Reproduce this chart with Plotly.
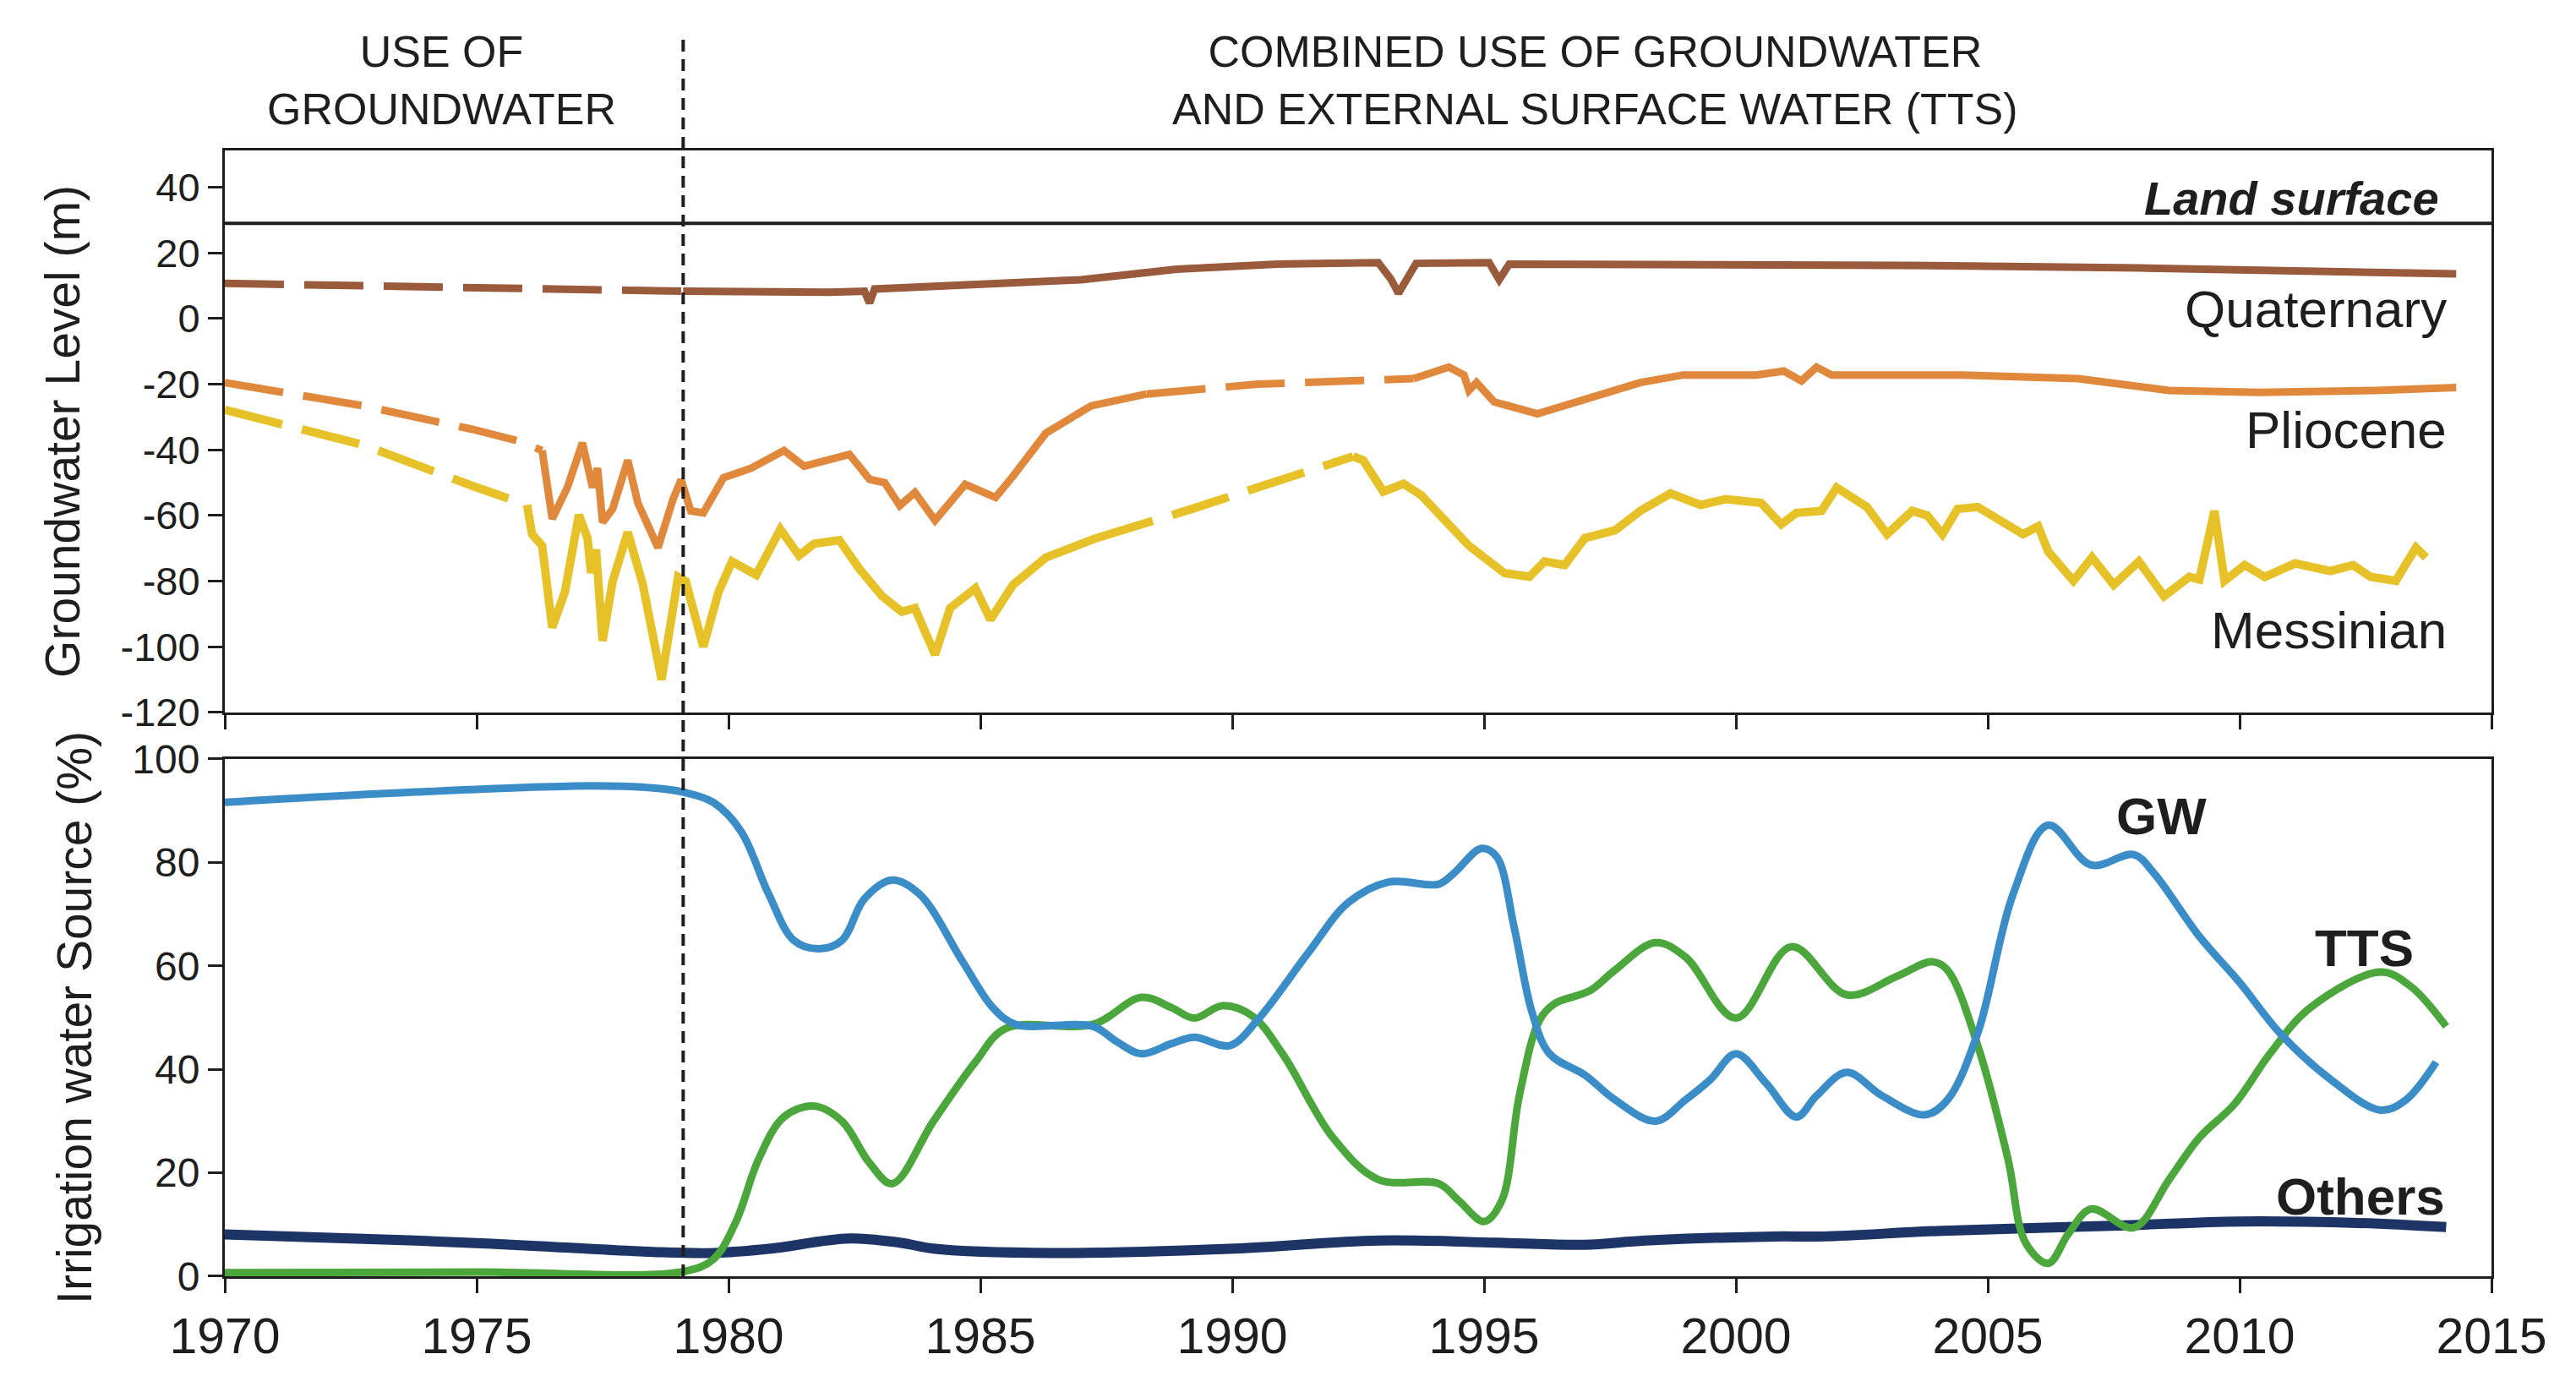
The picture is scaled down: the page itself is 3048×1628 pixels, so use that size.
import plotly.graph_objects as go

# ---- data ----
transition_year = 1979.1
land_surface = 29

level_ticks = [-120, -100, -80, -60, -40, -20, 0, 20, 40]
level_labels = ["-120", "-100", "-80", "-60", "-40", "-20", "0", "20", "40"]

# Quaternary aquifer
quat_dash_x = [1970, 1979.1]
quat_dash_y = [10.7, 8.3]
quat_x = [1979.1, 1980.5, 1982.0, 1982.7, 1982.8, 1982.9, 1984.0, 1985.1, 1987.0, 1988.9,
          1990.9, 1992.9, 1993.15, 1993.3, 1993.45, 1993.65, 1995.1, 1995.3, 1995.5, 1997.4,
          2003.3, 2008.0, 2011.5, 2014.3]
quat_y = [8.3, 8.0, 8.0, 8.3, 4.7, 9.0, 9.8, 10.1, 11.8, 15.0,
          16.6, 17.0, 12.0, 7.7, 12.0, 16.8, 17.0, 11.8, 16.6, 16.6,
          16.2, 15.4, 14.6, 13.6]

# Pliocene aquifer
pli_dash1_x = [1970, 1972.75, 1974.9, 1975.8, 1976.3]
pli_dash1_y = [-19.5, -26.6, -33.7, -37.2, -40.2]
pli_x1 = [1976.3, 1976.5, 1976.8, 1977.1, 1977.3, 1977.4, 1977.5, 1977.7, 1978.0, 1978.2,
          1978.6, 1978.9, 1979.06, 1979.25, 1979.5, 1979.9, 1980.45, 1981.1, 1981.5, 1982.4,
          1982.8, 1983.1, 1983.4, 1983.7, 1984.1, 1984.7, 1985.3, 1985.65, 1986.3, 1987.2,
          1988.3]
pli_y1 = [-40.2, -61, -51.5, -37.9, -51.5, -45.6, -62.1, -58, -43.2, -56.2,
          -69.8, -55, -49.1, -58.6, -59.2, -48.5, -45.6, -40.2, -45, -41.4,
          -49, -50, -57, -53, -61.5, -50.5, -54.5, -48, -34.9, -26.6,
          -23]
pli_dash2_x = [1988.3, 1990.5, 1993.6]
pli_dash2_y = [-23, -20, -18.3]
pli_x2 = [1993.6, 1994.0, 1994.3, 1994.6, 1994.7, 1994.85, 1995.2, 1996.06, 1997.1, 1998.1,
          1998.95, 2000.4, 2000.95, 2001.3, 2001.6, 2001.9, 2004.5, 2006.8, 2008.6, 2010.4,
          2012.7, 2014.3]
pli_y2 = [-18.3, -16.5, -14.8, -17.2, -21.9, -19.5, -25.4, -29, -24.3, -19.5,
          -17.2, -17.2, -16, -19, -14.8, -17.2, -17.2, -18.3, -21.9, -22.5,
          -21.9, -21]

# Messinian aquifer
mes_dash1_x = [1970, 1972.75, 1974.9, 1976.0]
mes_dash1_y = [-27.8, -38.5, -50.9, -56.8]
mes_x1 = [1976.0, 1976.1, 1976.3, 1976.5, 1976.75, 1977.03, 1977.2, 1977.27, 1977.37, 1977.5,
          1977.7, 1978.0, 1978.3, 1978.67, 1979.0, 1979.15, 1979.5, 1979.8, 1980.07, 1980.55,
          1981.03, 1981.4, 1981.7, 1982.2, 1982.6, 1983.05, 1983.44, 1983.7, 1984.1, 1984.4,
          1984.9, 1985.2, 1985.65, 1986.3, 1987.3]
mes_y1 = [-56.8, -65.7, -69.2, -94.1, -83.4, -59.8, -66.9, -77.5, -70.4, -98.2,
          -80, -65.1, -81.1, -110, -78.7, -80, -100, -83.4, -74, -78.1,
          -64.2, -72.2, -68.6, -67.5, -76.3, -84.6, -89.3, -88.2, -102.4, -88.2,
          -82.2, -91.7, -81.1, -72.8, -66.9]
mes_dash2_x = [1987.3, 1989.2, 1992.4]
mes_dash2_y = [-66.9, -58, -42]
mes_x2 = [1992.4, 1992.6, 1993.0, 1993.4, 1993.75, 1994.7, 1995.4, 1995.9, 1996.2, 1996.6,
          1997.0, 1997.6, 1998.1, 1998.7, 1999.3, 1999.8, 2000.5, 2000.9, 2001.2, 2001.7,
          2002.0, 2002.6, 2003.0, 2003.5, 2003.8, 2004.1, 2004.4, 2004.8, 2005.7, 2006.0,
          2006.2, 2006.7, 2007.07, 2007.5, 2008.0, 2008.5, 2009.0, 2009.2, 2009.5, 2009.7,
          2010.1, 2010.5, 2011.1, 2011.8, 2012.25, 2012.6, 2013.1, 2013.5, 2013.7]
mes_y2 = [-42, -43.2, -52.7, -50.3, -53.8, -69.2, -77.5, -78.7, -74, -75.1,
          -66.9, -64.5, -58.6, -53.3, -56.8, -55, -56.2, -62.7, -59.2, -58.6,
          -51.5, -57.4, -65.7, -58.6, -60, -65.7, -58, -57.4, -65.7, -63.3,
          -71, -79.9, -72.8, -81.1, -74, -84.6, -78.7, -79.5, -58.6, -79.9,
          -75.1, -78.7, -74.6, -76.9, -75.1, -78.7, -79.9, -69.8, -72.8]

# Irrigation water source (%)
gw_x = [1970, 1973.8, 1977.3, 1978.5, 1979.1, 1979.7, 1980.25, 1980.8, 1981.3, 1981.8,
        1982.25, 1982.7, 1983.25, 1983.8, 1984.65, 1985.25, 1985.7, 1987.24, 1987.7, 1988.2,
        1988.8, 1989.25, 1989.95, 1990.5, 1991.5, 1992.3, 1993.1, 1994.1, 1994.4, 1994.95,
        1995.25, 1995.6, 1995.95, 1996.3, 1997.0, 1997.6, 1998.4, 1999.0, 1999.5, 2000.0,
        2000.6, 2001.2, 2001.6, 2002.2, 2002.9, 2003.75, 2004.2, 2004.8, 2005.5, 2006.2,
        2007.05, 2007.9, 2008.3, 2009.2, 2010.0, 2010.8, 2011.8, 2012.8, 2013.3, 2013.9]
gw_y = [91.6, 93.6, 94.8, 94.4, 93.6, 91.6, 86, 73.8, 64.9, 63.3,
        64.9, 73, 76.6, 73.8, 60.8, 51.9, 48.7, 48.3, 45.4, 43,
        45, 46.2, 44.6, 49.5, 62.4, 72.2, 76.2, 75.8, 77.9, 82.7,
        81.1, 67.3, 51.1, 43, 38.9, 34.1, 30, 34.1, 38.1, 43,
        37.3, 30.8, 34.9, 39.4, 34.9, 31.2, 34.1, 47, 73.8, 87.2,
        79.5, 81.5, 77.9, 65.7, 56.8, 47, 38.1, 32.1, 34.1, 41.4]

tts_x = [1970, 1975, 1979.1, 1979.7, 1980.15, 1980.6, 1981.1, 1981.7, 1982.25, 1982.8,
         1983.25, 1984.07, 1984.9, 1985.5, 1987.24, 1988.2, 1988.8, 1989.25, 1989.8, 1990.4,
         1991.0, 1992.0, 1992.9, 1994.1, 1994.5, 1995.0, 1995.35, 1995.7, 1996.1, 1996.4,
         1997.1, 1997.6, 1998.4, 1999.0, 2000.0, 2001.1, 2002.2, 2003.2, 2003.9, 2004.2,
         2004.8, 2005.4, 2005.75, 2006.2, 2006.6, 2007.05, 2007.9, 2008.6, 2009.2, 2009.9,
         2010.6, 2011.4, 2012.8, 2013.4, 2014.1]
tts_y = [0.7, 0.8, 0.9, 3.3, 10.6, 22.7, 30.8, 32.9, 30, 21.9,
         17.9, 30, 41.4, 47.9, 48.7, 53.9, 51.9, 49.9, 52.3, 50.3,
         43, 26.8, 18.7, 17.9, 14.6, 10.6, 14.6, 34.9, 49.5, 52.7,
         55.2, 59.2, 64.5, 61.7, 49.9, 63.7, 54.4, 58, 60.8, 59.2,
         44.6, 22.7, 6.5, 2.5, 8.2, 13, 9.4, 18.7, 26.8, 33.3,
         43, 51.9, 58.8, 56, 48.3]

oth_x = [1970, 1973.8, 1976.1, 1978.5, 1979.7, 1980.8, 1982.4, 1983.4, 1984.1, 1986.4,
         1989.95, 1992.9, 1995.25, 1997.0, 1998.2, 2000.76, 2001.75, 2004.1, 2007.6, 2010.0,
         2012.35, 2014.1]
oth_y = [8.1, 6.9, 5.9, 4.7, 4.5, 5.3, 7.3, 6.5, 5.3, 4.5,
         5.3, 6.9, 6.5, 6.1, 6.9, 7.7, 7.7, 8.8, 9.8, 10.6,
         10.3, 9.5]

# ---- styling ----
BROWN = "#9a5a3c"
ORANGE = "#e0883c"
YELLOW = "#e7c128"
BLUE = "#3b8dc8"
GREEN = "#4ba73c"
NAVY = "#1d3466"
INK = "#1e1e1e"
FONT = "Arial, Liberation Sans, sans-serif"
DASH = "70px,24px"

fig = go.Figure()


def add_line(x, y, color, width, dash="solid", axis=1, shape="linear"):
    fig.add_trace(go.Scatter(
        x=x, y=y, mode="lines",
        line=dict(color=color, width=width, dash=dash, shape=shape),
        xaxis="x" if axis == 1 else "x2",
        yaxis="y" if axis == 1 else "y2",
        showlegend=False, hoverinfo="skip"))


# top panel: groundwater levels
add_line(quat_dash_x, quat_dash_y, BROWN, 9, DASH)
add_line(quat_x, quat_y, BROWN, 9)
add_line(pli_dash1_x, pli_dash1_y, ORANGE, 9, DASH)
add_line(pli_x1, pli_y1, ORANGE, 9)
add_line(pli_dash2_x, pli_dash2_y, ORANGE, 9, DASH)
add_line(pli_x2, pli_y2, ORANGE, 9)
add_line(mes_dash1_x, mes_dash1_y, YELLOW, 10, DASH)
add_line(mes_x1, mes_y1, YELLOW, 10)
add_line(mes_dash2_x, mes_dash2_y, YELLOW, 10, DASH)
add_line(mes_x2, mes_y2, YELLOW, 10)

# bottom panel: irrigation sources
add_line(oth_x, oth_y, NAVY, 12, axis=2, shape="spline")
add_line(tts_x, tts_y, GREEN, 9, axis=2, shape="spline")
add_line(gw_x, gw_y, BLUE, 9, axis=2, shape="spline")

axis_common = dict(
    showline=True, mirror=True, linecolor=INK, linewidth=3,
    ticks="outside", ticklen=17, tickwidth=3, tickcolor=INK,
    showgrid=False, zeroline=False,
)

# the page body has an 8px margin, so the figure is 16px smaller than the window
fig.update_layout(
    width=3040, height=1620,
    margin=dict(l=258, r=100, t=170, b=118),
    paper_bgcolor="white", plot_bgcolor="white",
    font=dict(family=FONT, color=INK),
    xaxis=dict(domain=[0, 1], anchor="y", range=[1970, 2015], dtick=5,
               showticklabels=False, **axis_common),
    yaxis=dict(domain=[0.5008, 1], anchor="x", range=[-120, 51.2],
               tickvals=level_ticks, ticktext=level_labels,
               tickfont=dict(size=47),
               title=dict(text="Groundwater Level (m)", font=dict(size=57), standoff=30),
               **axis_common),
    xaxis2=dict(domain=[0, 1], anchor="y2", range=[1970, 2015], dtick=5,
                tickfont=dict(size=59), **axis_common),
    yaxis2=dict(domain=[0, 0.4595], anchor="x2", range=[0, 100], dtick=20,
                tickfont=dict(size=48),
                title=dict(text="Irrigation water Source (%)", font=dict(size=57), standoff=30),
                **axis_common),
)

fig.add_shape(type="line", xref="x", yref="y", x0=1970, x1=2015,
              y0=land_surface, y1=land_surface, line=dict(color=INK, width=4))
fig.add_shape(type="line", xref="x", yref="paper", x0=transition_year, x1=transition_year,
              y0=0, y1=1.0998, line=dict(color=INK, width=4, dash="14px,9px"))

# period headers (two lines each)
for txt, xv in [("USE OF<br>GROUNDWATER", 1974.3),
                ("COMBINED USE OF GROUNDWATER<br>AND EXTERNAL SURFACE WATER (TTS)", 1997.2)]:
    fig.add_annotation(text=txt, xref="x", yref="paper", x=xv, y=1.0623,
                       xanchor="center", yanchor="middle", showarrow=False,
                       font=dict(size=52, color=INK))

# top panel labels
fig.add_annotation(text="<b><i>Land surface</i></b>", xref="x", yref="y", x=2014.0, y=36.6,
                   xanchor="right", yanchor="middle", showarrow=False, font=dict(size=56))
for txt, yv in [("Quaternary", 2.9), ("Pliocene", -34), ("Messinian", -94.8)]:
    fig.add_annotation(text=txt, xref="x", yref="y", x=2014.15, y=yv,
                       xanchor="right", yanchor="middle", showarrow=False,
                       font=dict(size=62))

# bottom panel labels
for txt, xv, yv in [("GW", 2008.44, 88.9), ("TTS", 2012.47, 63.4), ("Others", 2012.4, 15.5)]:
    fig.add_annotation(text="<b>" + txt + "</b>", xref="x2", yref="y2", x=xv, y=yv,
                       xanchor="center", yanchor="middle", showarrow=False,
                       font=dict(size=62))

fig.write_html("out.html")
